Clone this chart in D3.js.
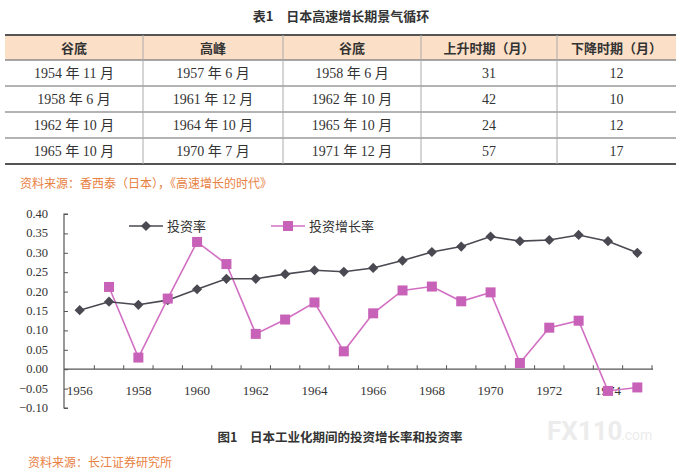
<!DOCTYPE html>
<html>
<head>
<meta charset="utf-8">
<script src="https://cdn.jsdelivr.net/npm/d3@7"></script>
<style>
  body { margin: 0; background: #fff; }
  svg { display: block; }
</style>
</head>
<body>
<svg width="682" height="472"></svg>
<script>
// table data
const table_header = ["谷底", "高峰", "谷底", "上升时期（月）", "下降时期（月）"];
const trough_start = ["1954 年 11 月", "1958 年 6 月", "1962 年 10 月", "1965 年 10 月"];
const peak = ["1957 年 6 月", "1961 年 12 月", "1964 年 10 月", "1970 年 7 月"];
const trough_end = ["1958 年 6 月", "1962 年 10 月", "1965 年 10 月", "1971 年 12 月"];
const rise_months = [31, 42, 24, 57];
const fall_months = [12, 10, 12, 17];

// chart data
const years = d3.range(1956, 1976).map(String);
const invest_rate = [0.152, 0.174, 0.166, 0.178, 0.206, 0.233, 0.233, 0.245, 0.255, 0.251,
                     0.261, 0.280, 0.302, 0.316, 0.342, 0.330, 0.333, 0.346, 0.330, 0.300];
const invest_growth = [null, 0.212, 0.030, 0.182, 0.328, 0.271, 0.091, 0.128, 0.172, 0.046,
                       0.144, 0.203, 0.213, 0.175, 0.198, 0.016, 0.107, 0.125, -0.056, -0.047];
const y_ticks = d3.range(-0.10, 0.4001, 0.05);

const svg = d3.select("svg");
const serif = "'Liberation Serif', 'Noto Sans CJK SC', serif";
const cjk = "'Noto Sans CJK SC', sans-serif";

// ---------- table ----------
svg.append("text")
    .attr("x", 341).attr("y", 21)
    .attr("text-anchor", "middle")
    .style("font-family", cjk).style("font-weight", "bold").style("font-size", "13px")
    .attr("fill", "#333")
    .text("表1　日本高速增长期景气循环");

const col_edges = [5, 143, 283, 421, 557, 676];
const tab_top = 35, head_h = 25, row_h = 26;
const rows = trough_start.map((d, i) => [d, peak[i], trough_end[i], rise_months[i], fall_months[i]]);
const tab_bottom = tab_top + head_h + row_h * rows.length;

const table_g = svg.append("g");
table_g.append("rect")
    .attr("x", col_edges[0]).attr("y", tab_top)
    .attr("width", col_edges[5] - col_edges[0]).attr("height", head_h)
    .attr("fill", "#fbdfc7");

// row lines
table_g.selectAll("line.row")
    .data(d3.range(1, rows.length))
    .enter()
    .append("line")
    .attr("x1", col_edges[0]).attr("x2", col_edges[5])
    .attr("y1", (d) => tab_top + head_h + row_h * d)
    .attr("y2", (d) => tab_top + head_h + row_h * d)
    .attr("stroke", "#9a9a9a").attr("stroke-width", 1.5);

table_g.append("line")
    .attr("x1", col_edges[0]).attr("x2", col_edges[5])
    .attr("y1", tab_top + head_h).attr("y2", tab_top + head_h)
    .attr("stroke", "#8a8a8a").attr("stroke-width", 1.5);

[tab_top, tab_bottom].forEach((y) => {
    table_g.append("line")
        .attr("x1", col_edges[0]).attr("x2", col_edges[5])
        .attr("y1", y).attr("y2", y)
        .attr("stroke", "#555").attr("stroke-width", 2);
});

table_g.selectAll("line.col")
    .data(col_edges.slice(1, 5))
    .enter()
    .append("line")
    .attr("x1", (d) => d).attr("x2", (d) => d)
    .attr("y1", tab_top).attr("y2", tab_bottom)
    .attr("stroke", "#aaa").attr("stroke-width", 1);

const col_mid = (i) => (col_edges[i] + col_edges[i + 1]) / 2;

table_g.selectAll("text.head")
    .data(table_header)
    .enter()
    .append("text")
    .attr("x", (d, i) => col_mid(i))
    .attr("y", tab_top + head_h / 2 + 5)
    .attr("text-anchor", "middle")
    .style("font-family", cjk).style("font-weight", "bold").style("font-size", "13px")
    .attr("fill", "#333")
    .text((d) => d);

rows.forEach((r, ri) => {
    table_g.selectAll(null)
        .data(r)
        .enter()
        .append("text")
        .attr("x", (d, i) => col_mid(i))
        .attr("y", tab_top + head_h + row_h * ri + row_h / 2 + 5)
        .attr("text-anchor", "middle")
        .style("font-family", serif).style("font-size", "14px")
        .attr("fill", "#333")
        .text((d) => d);
});

svg.append("text")
    .attr("x", 20).attr("y", 188)
    .style("font-family", cjk).style("font-size", "12px")
    .attr("fill", "#e8813f")
    .text("资料来源：香西泰（日本），《高速增长的时代》");

// ---------- chart ----------
const x_scale = d3.scaleBand().domain(years).range([65, 652]);
const y_scale = d3.scaleLinear().domain([-0.1, 0.4]).range([408, 214]);

const chart_g = svg.append("g");

// y axis
const y_axis = d3.axisRight(y_scale)
    .tickValues(y_ticks)
    .tickSize(4)
    .tickFormat("");
chart_g.append("g")
    .attr("transform", `translate(${x_scale.range()[0] - 1}, 0)`)
    .call(y_axis)
    .call((g) => g.select(".domain").attr("stroke", "#555").attr("stroke-width", 1.2).attr("d", `M4,${y_scale(0.4)}H0V${y_scale(-0.1)}H4`))
    .call((g) => g.selectAll(".tick line").attr("stroke", "#555"));

chart_g.selectAll("text.ylab")
    .data(y_ticks)
    .enter()
    .append("text")
    .attr("x", 48)
    .attr("y", (d) => y_scale(d) + 4)
    .attr("text-anchor", "end")
    .style("font-family", serif).style("font-size", "12.5px")
    .attr("fill", "#333")
    .text((d) => d3.format(".2f")(Math.abs(d) < 1e-9 ? 0 : d));

// x axis at zero
const x_g = chart_g.append("g").attr("transform", `translate(0, ${y_scale(0)})`);
x_g.append("line")
    .attr("x1", x_scale.range()[0] - 1).attr("x2", x_scale.range()[1] + 1)
    .attr("stroke", "#555").attr("stroke-width", 1.2);
x_g.selectAll("line.tick")
    .data(years.slice(1).concat(["end"]))
    .enter()
    .append("line")
    .attr("x1", (d) => d === "end" ? x_scale.range()[1] : x_scale(d))
    .attr("x2", (d) => d === "end" ? x_scale.range()[1] : x_scale(d))
    .attr("y1", 0).attr("y2", -4)
    .attr("stroke", "#555");

chart_g.selectAll("text.xlab")
    .data(years.filter((d, i) => i % 2 === 0))
    .enter()
    .append("text")
    .attr("x", (d) => x_scale(d) + x_scale.bandwidth() / 2)
    .attr("y", 395)
    .attr("text-anchor", "middle")
    .style("font-family", serif).style("font-size", "13px")
    .attr("fill", "#333")
    .text((d) => d);

const cx = (d) => x_scale(d.year) + x_scale.bandwidth() / 2;

const rate_pts = years.map((y, i) => ({ year: y, v: invest_rate[i] }));
const growth_pts = years.map((y, i) => ({ year: y, v: invest_growth[i] })).filter((d) => d.v !== null);

const line = d3.line().x(cx).y((d) => y_scale(d.v));

const dark = "#4a4952";
const pink = "#d26fc2";
const pink_mark = "#c862b8";

chart_g.append("path")
    .attr("d", line(growth_pts))
    .attr("fill", "none").attr("stroke", pink).attr("stroke-width", 1.6);

chart_g.append("path")
    .attr("d", line(rate_pts))
    .attr("fill", "none").attr("stroke", dark).attr("stroke-width", 1.6);

const diamond = d3.symbol().type(d3.symbolSquare).size(52);

chart_g.selectAll("path.rate")
    .data(rate_pts)
    .enter()
    .append("path")
    .attr("d", diamond)
    .attr("transform", (d) => `translate(${cx(d)}, ${y_scale(d.v)}) rotate(45)`)
    .attr("fill", dark);

chart_g.selectAll("rect.growth")
    .data(growth_pts)
    .enter()
    .append("rect")
    .attr("x", (d) => cx(d) - 5).attr("y", (d) => y_scale(d.v) - 5)
    .attr("width", 10).attr("height", 10)
    .attr("fill", pink_mark);

// legend
const legend = [
    { name: "投资率", color: dark, x: 129, shape: "diamond" },
    { name: "投资增长率", color: pink, x: 271, shape: "square" }
];
const leg_g = chart_g.selectAll("g.legend")
    .data(legend)
    .enter()
    .append("g")
    .attr("transform", (d) => `translate(${d.x}, 226)`);
leg_g.append("line")
    .attr("x1", 0).attr("x2", 34)
    .attr("stroke", (d) => d.color).attr("stroke-width", 1.6);
leg_g.each(function (d) {
    const g = d3.select(this);
    if (d.shape === "diamond") {
        g.append("path").attr("d", diamond).attr("transform", "translate(17,0) rotate(45)").attr("fill", d.color);
    } else {
        g.append("rect").attr("x", 12).attr("y", -5).attr("width", 10).attr("height", 10).attr("fill", pink_mark);
    }
});
leg_g.append("text")
    .attr("x", 38).attr("y", 5)
    .style("font-family", cjk).style("font-size", "13px")
    .attr("fill", "#333")
    .text((d) => d.name);

// captions
svg.append("text")
    .attr("x", 547).attr("y", 440)
    .style("font-family", "Roboto, sans-serif").style("font-size", "26px").style("font-weight", "bold")
    .attr("fill", "#ececec")
    .text("FX110");
svg.append("text")
    .attr("x", 621).attr("y", 440)
    .style("font-family", "Roboto, sans-serif").style("font-size", "14px")
    .attr("fill", "#ececec")
    .text(".com");

svg.append("text")
    .attr("x", 340).attr("y", 442)
    .attr("text-anchor", "middle")
    .style("font-family", cjk).style("font-weight", "bold").style("font-size", "12.5px")
    .attr("fill", "#333")
    .text("图1　日本工业化期间的投资增长率和投资率");

svg.append("text")
    .attr("x", 28).attr("y", 467)
    .style("font-family", cjk).style("font-size", "12px")
    .attr("fill", "#e8813f")
    .text("资料来源：长江证券研究所");
</script>
</body>
</html>
